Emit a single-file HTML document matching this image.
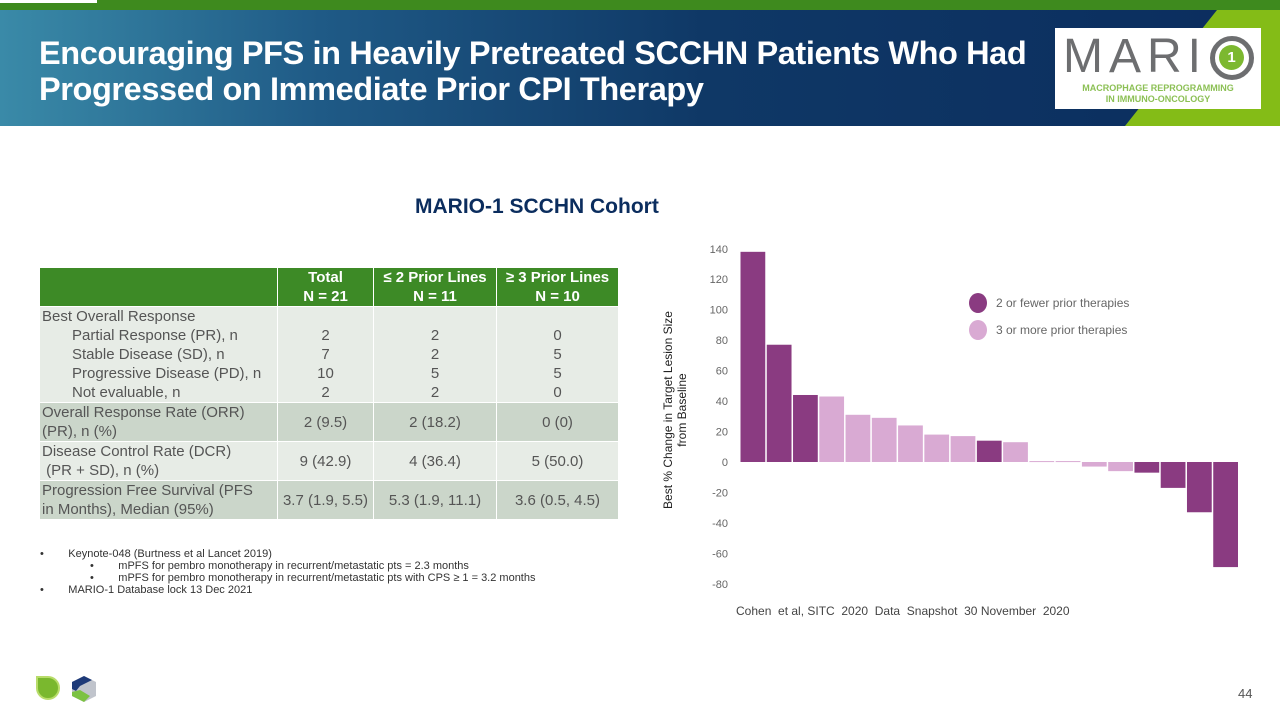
<!DOCTYPE html>
<html><head><meta charset="utf-8"><style>
body{margin:0;width:1280px;height:720px;overflow:hidden;background:#fff;font-family:"Liberation Sans",sans-serif;position:relative}
.abs{position:absolute}
table{border-collapse:collapse;position:absolute;left:39px;top:267px;width:580px;font-size:15px;color:#555}
td,th{border:1px solid #fff;padding:0 2px;line-height:19px}
th{background:#3d8a26;color:#fff;font-weight:bold;height:37px;font-size:15px}
.l{background:#e7ece6}.d{background:#cbd6ca}
td.c{text-align:center}
.note{font-size:11px;color:#333;line-height:12px}
</style></head><body>
<div class="abs" style="left:0;top:0;width:1280px;height:10px;background:#3e8a1e"></div>
<div class="abs" style="left:0;top:0;width:97px;height:3px;background:#fff"></div>
<div class="abs" style="left:0;top:10px;width:1280px;height:116px;background:linear-gradient(90deg,#3a8aa8 0%,#1f5a86 25%,#0f3866 55%,#0b2d5e 100%)"></div>
<svg class="abs" style="left:0;top:0" width="1280" height="130"><polygon points="1217,10 1280,10 1280,126 1125,126" fill="#84bc17"/><polygon points="1228,0 1280,0 1280,10 1217,10" fill="#3e8a1e"/></svg>
<div class="abs" style="left:39px;top:35px;color:#fff;font-weight:bold;font-size:32.5px;line-height:36px;letter-spacing:-0.4px">Encouraging PFS in Heavily Pretreated SCCHN Patients Who Had<br>Progressed on Immediate Prior CPI Therapy</div>
<div class="abs" style="left:1055px;top:28px;width:206px;height:81px;background:#fff">
<div class="abs" style="left:8px;top:2px;font-size:48px;color:#6d6e70;letter-spacing:6px;line-height:54px">MARI</div>
<div class="abs" style="left:155px;top:8px;width:34px;height:34px;border:5px solid #6d6e70;border-radius:50%"></div>
<div class="abs" style="left:164px;top:17px;width:25px;height:25px;border-radius:50%;background:#7cb830;color:#fff;font-size:15px;font-weight:bold;text-align:center;line-height:25px">1</div>
<div class="abs" style="left:0;top:55px;width:206px;text-align:center;font-size:9px;color:#8cc055;font-weight:bold;line-height:11px">MACROPHAGE REPROGRAMMING<br>IN IMMUNO-ONCOLOGY</div>
</div>
<div class="abs" style="left:415px;top:195px;font-size:21px;font-weight:bold;color:#0b2d5e">MARIO-1 SCCHN Cohort</div>
<table>
<tr><th style="width:233px"></th><th style="width:91px">Total<br>N = 21</th><th style="width:118px">≤ 2 Prior Lines<br>N = 11</th><th>≥ 3 Prior Lines<br>N = 10</th></tr>
<tr class="l" style="height:96px"><td>Best Overall Response<br><span style="padding-left:30px">Partial Response (PR), n</span><br><span style="padding-left:30px">Stable Disease (SD), n</span><br><span style="padding-left:30px">Progressive Disease (PD), n</span><br><span style="padding-left:30px">Not evaluable, n</span></td><td class="c"><br>2<br>7<br>10<br>2</td><td class="c"><br>2<br>2<br>5<br>2</td><td class="c"><br>0<br>5<br>5<br>0</td></tr>
<tr class="d" style="height:38px"><td>Overall Response Rate (ORR)<br>(PR), n (%)</td><td class="c">2 (9.5)</td><td class="c">2 (18.2)</td><td class="c">0 (0)</td></tr>
<tr class="l" style="height:37px"><td>Disease Control Rate (DCR)<br>&nbsp;(PR + SD), n (%)</td><td class="c">9 (42.9)</td><td class="c">4 (36.4)</td><td class="c">5 (50.0)</td></tr>
<tr class="d" style="height:38px"><td>Progression Free Survival (PFS<br>in Months), Median (95%)</td><td class="c">3.7 (1.9, 5.5)</td><td class="c">5.3 (1.9, 11.1)</td><td class="c">3.6 (0.5, 4.5)</td></tr>
</table>
<div class="abs note" style="left:40px;top:548px">
<div>•&nbsp;&nbsp;&nbsp;&nbsp;&nbsp;&nbsp;&nbsp;&nbsp;Keynote-048 (Burtness et al Lancet 2019)</div>
<div style="padding-left:50px">•&nbsp;&nbsp;&nbsp;&nbsp;&nbsp;&nbsp;&nbsp;&nbsp;mPFS for pembro monotherapy in recurrent/metastatic pts = 2.3 months</div>
<div style="padding-left:50px">•&nbsp;&nbsp;&nbsp;&nbsp;&nbsp;&nbsp;&nbsp;&nbsp;mPFS for pembro monotherapy in recurrent/metastatic pts with CPS ≥ 1 = 3.2 months</div>
<div>•&nbsp;&nbsp;&nbsp;&nbsp;&nbsp;&nbsp;&nbsp;&nbsp;MARIO-1 Database lock 13 Dec 2021</div>
</div>
<svg class="abs" id="chart" style="left:0;top:0" width="1280" height="720"></svg>
<div class="abs" style="left:736px;top:604px;font-size:12px;color:#444">Cohen &nbsp;et al, SITC &nbsp;2020 &nbsp;Data &nbsp;Snapshot &nbsp;30 November &nbsp;2020</div>
<svg class="abs" style="left:34px;top:674px" width="70" height="30">
<path d="M3,14 A11,11 0 1 0 14,3 L3,3 Z" fill="#7ab82e" stroke="#b8dc6a" stroke-width="2"/>
<polygon points="50,2 62,8 62,22 50,28 38,22 38,8" fill="#c0c4cc"/><polygon points="38,8 50,2 58,6 46,12 42,17 38,15" fill="#1e3a78"/><polygon points="38,18 46,16 56,22 50,28 38,22" fill="#7cc242"/>
</svg>
<div class="abs" style="left:1238px;top:686px;font-size:13px;color:#555">44</div>
<script>
const values=[138,77,44,43,31,29,24,18,17,14,13,0.6,0.6,-3,-6,-7,-17,-33,-69];
const groups=[1,1,1,2,2,2,2,2,2,1,2,2,2,2,2,1,1,1,1];
const ticks=[140,120,100,80,60,40,20,0,-20,-40,-60,-80];
const legendLabels=['2 or fewer prior therapies','3 or more prior therapies'];
const NS='http://www.w3.org/2000/svg',svg=document.getElementById('chart');
const x0=740,x1=1239,y=v=>462-v*1.523;
const slot=(x1-x0)/values.length;
const colors={1:'#8a3b81',2:'#d9aad3'};
function mk(t,a){const e=document.createElementNS(NS,t);for(const k in a)e.setAttribute(k,a[k]);svg.appendChild(e);return e;}
ticks.forEach(t=>{const e=mk('text',{x:728,y:y(t)+4,'text-anchor':'end','font-size':11,fill:'#666','font-family':'Liberation Sans'});e.textContent=t;

});
values.forEach((v,i)=>{const top=Math.min(y(v),y(0)),h=Math.max(Math.abs(y(v)-y(0)),1);
const r=mk('rect',{x:x0+i*slot+0.5,y:top,width:slot-1.5,height:h,fill:colors[groups[i]]});

});
const t=mk('text',{transform:'translate(672,410) rotate(-90)','text-anchor':'middle','font-size':12,fill:'#222','font-family':'Liberation Sans'});


t.innerHTML='<tspan x="0" dy="0">Best % Change in Target Lesion Size</tspan><tspan x="0" dy="14">from Baseline</tspan>';
legendLabels.forEach((l,i)=>{const c=mk('ellipse',{cx:978,cy:303+i*27,rx:9,ry:10,fill:colors[i+1]});


const e=mk('text',{x:996,y:307+i*27,'font-size':12,fill:'#666','font-family':'Liberation Sans'});e.textContent=l;

});
</script>
</body></html>
